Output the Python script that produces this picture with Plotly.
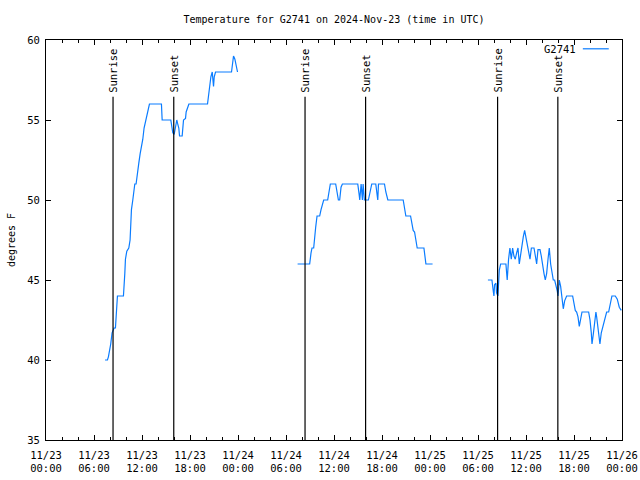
import pandas as pd
import plotly.graph_objects as go

# ---------------- data ----------------
START = "2024-11-23 00:00"
END = "2024-11-26 00:00"

seg1_hours = [7.38, 7.68, 7.80, 7.93, 8.09, 8.26, 8.51, 8.68, 8.76, 8.85, 8.93, 9.68, 9.76, 9.85, 9.93,
              10.10, 10.35, 10.51, 10.60, 10.68, 10.85, 11.01, 11.10, 11.26, 11.43, 11.60, 11.77, 11.93,
              12.10, 12.26, 12.43, 12.60, 12.77, 12.93, 14.43, 14.52, 15.60, 15.69, 15.85, 16.02, 16.19,
              16.35, 16.44, 16.60, 16.69, 17.02, 17.19, 17.44, 17.52, 17.69, 17.86, 20.19, 20.36, 20.44,
              20.61, 20.78, 20.94, 21.03, 21.19, 23.19, 23.36, 23.44, 23.61, 23.78, 23.94]
seg1_temps = [40, 40, 40.2, 40.5, 41, 41.7, 42, 42, 42.9, 43.4, 44, 44, 44.5, 45.4, 46.3,
              46.8, 47, 47.5, 48.5, 49.4, 50, 50.7, 51, 51, 51.8, 52.3, 52.9, 53.3,
              53.8, 54.5, 54.9, 55.2, 55.7, 56, 56, 55, 55, 54.7, 54.2, 54.1, 54.6,
              55, 54.8, 54.5, 54, 54, 55, 55.1, 55.5, 55.8, 56, 56, 56.8, 57.3,
              57.7, 58, 57.1, 57.7, 58, 58, 58.8, 59, 58.8, 58.3, 58]

seg2_hours = [31.45, 32.96, 33.13, 33.25, 33.46, 33.55, 33.71, 33.88, 34.21, 34.38, 34.54, 34.71,
              35.21, 35.38, 35.54, 36.21, 36.38, 36.55, 36.71, 36.88, 37.05, 38.97, 39.13, 39.22,
              39.39, 39.55, 39.64, 39.80, 40.30, 40.47, 40.72, 41.22, 41.39, 41.47, 41.56, 42.31,
              42.48, 42.73, 44.65, 44.82, 44.98, 45.57, 45.73, 45.90, 46.07, 46.24, 46.40, 47.24,
              47.41, 47.49, 48.32]
seg2_temps = [46, 46, 46.7, 47, 47, 47.7, 48.3, 49, 49, 49.4, 49.8, 50,
              50, 50.7, 51, 51, 50.4, 50, 50, 50.8, 51, 51, 50.4, 50,
              51, 50, 51, 50, 50, 50.4, 51, 51, 50.4, 50, 51, 51,
              50.5, 50, 50, 49.5, 49, 49, 48.6, 48.1, 48, 47.5, 47, 47,
              46.3, 46, 46]

seg3_hours = [55.24, 55.74, 55.91, 55.99, 56.07, 56.24, 56.32, 56.49, 56.66, 56.83, 57.49, 57.65,
              57.82, 57.99, 58.16, 58.33, 58.49, 58.66, 58.83, 59.00, 59.16, 59.33, 59.50, 59.66,
              59.83, 60.00, 60.16, 60.33, 60.50, 60.67, 61.00, 61.17, 61.33, 61.50, 61.75, 61.91,
              62.08, 62.25, 62.41, 62.58, 62.75, 62.91, 63.08, 63.25, 63.41, 63.58, 63.75, 63.91,
              64.00, 64.16, 64.33, 64.50, 64.66, 64.83, 65.08, 65.83, 66.00, 66.16, 66.33, 66.50,
              66.66, 66.83, 67.00, 67.83, 68.00, 68.16, 68.25, 68.41, 68.58, 68.74, 68.83, 68.99,
              69.16, 69.24, 69.41, 69.58, 69.74, 69.91, 70.08, 70.33, 70.49, 70.74, 71.16, 71.41,
              71.66, 71.91]
seg3_temps = [45, 45, 44.3, 44, 44.7, 44.8, 44.2, 44, 45.6, 46, 46, 45,
              46.3, 47, 46.3, 47, 46.5, 46.3, 46.7, 47, 46, 46.7, 47.3, 47.7,
              48.1, 47.6, 47.1, 46.7, 46.3, 47, 47, 46.5, 46, 46.9, 46.9, 46.5,
              45.8, 45.4, 45, 45.4, 46.3, 47, 46, 45.3, 45, 45, 44.7, 44.3,
              44, 45, 44.6, 43.8, 43.2, 43.7, 44, 44, 43.5, 43.1, 43, 42.7,
              42.1, 42.5, 43, 43, 42.5, 41.7, 41, 41.6, 42.5, 43, 42.7, 42,
              41.5, 41, 41.7, 42, 42.3, 42.7, 43, 43, 43.4, 44, 44, 43.8,
              43.3, 43.1]

sunrise_hours = [8.38, 32.38, 56.45]
sunset_hours = [15.97, 39.95, 63.98]

series_name = "G2741"
title_text = "Temperature for G2741 on 2024-Nov-23 (time in UTC)"
y_title = "degrees F"
y_range = [35, 60]

# ---------------- helpers ----------------
base = pd.Timestamp(START)


def to_time(hours):
    return list(base + pd.to_timedelta(hours, unit="h"))


xs, ys = [], []
for h, t in [(seg1_hours, seg1_temps), (seg2_hours, seg2_temps), (seg3_hours, seg3_temps)]:
    xs += to_time(h) + [None]
    ys += list(t) + [None]

SUN_TOP = 56.45  # style: height of the sunrise/sunset markers
FONT = "DejaVu Sans Mono"
FS = 10
LINE_COLOR = "#0a7cff"

fig = go.Figure()
fig.add_trace(go.Scatter(x=xs, y=ys, mode="lines", name=series_name,
                         line=dict(color=LINE_COLOR, width=1.2), connectgaps=False,
                         showlegend=False))

# sunrise / sunset vertical lines
vx, vy = [], []
for h in sunrise_hours + sunset_hours:
    tt = to_time([h])[0]
    vx += [tt, tt, None]
    vy += [y_range[0], SUN_TOP, None]
fig.add_trace(go.Scatter(x=vx, y=vy, mode="lines", line=dict(color="black", width=1.2),
                         showlegend=False, hoverinfo="skip"))

for label, hours in [("Sunrise", sunrise_hours), ("Sunset", sunset_hours)]:
    for h in hours:
        fig.add_annotation(x=to_time([h])[0], y=SUN_TOP, text=label, textangle=-90,
                           showarrow=False, xanchor="center", yanchor="bottom", yshift=2,
                           font=dict(family=FONT, size=10.5, color="black"))

# legend-like key (text then line, gnuplot style)
fig.add_annotation(xref="paper", yref="paper", x=0.924, y=0.978, text=series_name,
                   showarrow=False, xanchor="right", yanchor="middle",
                   font=dict(family=FONT, size=10.5, color="black"))
fig.add_shape(type="line", xref="paper", yref="paper", x0=0.932, x1=0.977, y0=0.978, y1=0.978,
              line=dict(color=LINE_COLOR, width=1.2))

tick_times = pd.date_range(START, END, freq="6h")
tick_text = [t.strftime("%m/%d") + "<br>" + t.strftime("%H:%M") for t in tick_times]

fig.update_layout(
    width=640, height=480,
    margin=dict(l=46, r=18, t=40, b=40, autoexpand=False),
    paper_bgcolor="white", plot_bgcolor="white",
    font=dict(family=FONT, size=FS, color="black"),
    title=dict(text=title_text, x=0.5, xref="paper", y=1 - 19 / 480, yanchor="middle",
               font=dict(family=FONT, size=FS, color="black")),
    showlegend=False,
)
fig.update_xaxes(
    type="date", range=[START, END], tickmode="array", tickvals=list(tick_times),
    ticktext=tick_text, ticks="inside", ticklen=5, tickcolor="black",
    showline=True, linecolor="black", linewidth=1, mirror="ticks", showgrid=False,
    zeroline=False, ticklabelstandoff=5, automargin=False,
    tickfont=dict(family=FONT, size=10.5),
    minor=dict(dtick=2 * 3600 * 1000, tick0=START, ticks="inside", ticklen=3,
               tickcolor="black", showgrid=False),
)
fig.update_yaxes(
    range=y_range, dtick=5, ticks="inside", ticklen=5, tickcolor="black",
    showline=True, linecolor="black", linewidth=1, mirror="ticks", showgrid=False,
    zeroline=False, ticklabelstandoff=3, automargin=False,
    tickfont=dict(family=FONT, size=10.5),
    title=dict(text=y_title, standoff=9, font=dict(family=FONT, size=FS)),
)

fig.write_html("out.html", config={"displayModeBar": False},
               post_script="document.body.style.margin='0';document.body.style.padding='0';")
